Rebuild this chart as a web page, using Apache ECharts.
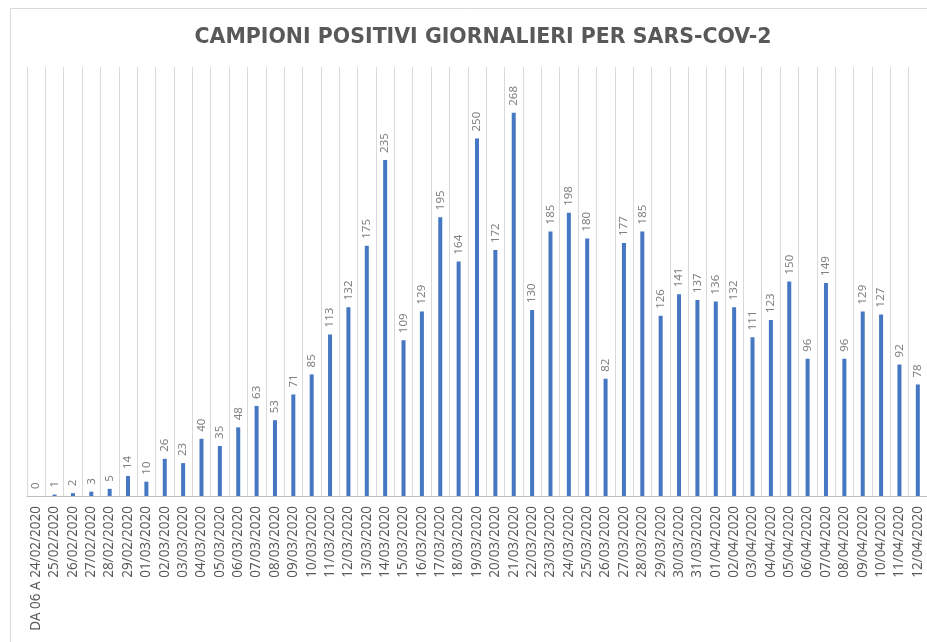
<!DOCTYPE html>
<html>
<head>
<meta charset="utf-8">
<script src="https://cdn.jsdelivr.net/npm/echarts@6/dist/echarts.min.js"></script>
<style>html,body{margin:0;padding:0;background:#fff;}#c{width:927px;height:642px;}</style>
</head>
<body>
<div id="c"></div>
<script>
const titleText = "CAMPIONI POSITIVI GIORNALIERI PER SARS-COV-2";
const categories = ["DA 06 A 24/02/2020","25/02/2020","26/02/2020","27/02/2020","28/02/2020","29/02/2020",
"01/03/2020","02/03/2020","03/03/2020","04/03/2020","05/03/2020","06/03/2020","07/03/2020","08/03/2020","09/03/2020","10/03/2020",
"11/03/2020","12/03/2020","13/03/2020","14/03/2020","15/03/2020","16/03/2020","17/03/2020","18/03/2020","19/03/2020","20/03/2020",
"21/03/2020","22/03/2020","23/03/2020","24/03/2020","25/03/2020","26/03/2020","27/03/2020","28/03/2020","29/03/2020","30/03/2020",
"31/03/2020","01/04/2020","02/04/2020","03/04/2020","04/04/2020","05/04/2020","06/04/2020","07/04/2020","08/04/2020","09/04/2020",
"10/04/2020","11/04/2020","12/04/2020"];
const positivi = [0,1,2,3,5,14,10,26,23,40,35,48,63,53,71,85,113,132,175,235,109,129,195,164,250,172,268,130,185,198,180,82,177,185,126,141,137,136,132,111,123,150,96,149,96,129,127,92,78];

const chart = echarts.init(document.getElementById('c'), null, {renderer:'canvas'});
chart.setOption({
  backgroundColor:'#ffffff',
  animation:false,
  title:{
    text:titleText, left:478, top:22, textAlign:'center',
    textStyle:{fontFamily:'DejaVu Sans', fontWeight:'bold', fontSize:20.5, color:'#595959'}
  },
  graphic:[{
    type:'rect', shape:{x:10.5, y:8.5, width:1000, height:700},
    style:{fill:'none', stroke:'#d9d9d9', lineWidth:1}, silent:true, z:-1
  }],
  grid:{left:27, right:-4, top:67, bottom:146, containLabel:false},
  xAxis:{
    type:'category', data:categories, boundaryGap:true,
    axisLine:{show:true, lineStyle:{color:'#bfbfbf', width:1}},
    axisTick:{show:false},
    splitLine:{show:true, interval:0, lineStyle:{color:'#d9d9d9', width:1}},
    axisLabel:{interval:0, rotate:90, margin:10, color:'#595959', fontFamily:'Noto Sans', fontSize:13.5}
  },
  yAxis:{
    type:'value', min:0, max:300, show:false,
    splitLine:{show:false}
  },
  series:[{
    type:'bar', data:positivi, barWidth:4,
    itemStyle:{color:'#4677c2'},
    label:{show:true, position:'top', rotate:90, distance:7, align:'left', verticalAlign:'middle',
      color:'#808080', fontFamily:'Noto Sans', fontSize:11.5}
  }]
});
</script>
</body>
</html>
